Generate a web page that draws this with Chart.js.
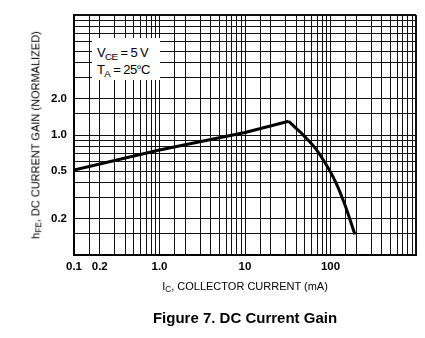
<!DOCTYPE html>
<html>
<head>
<meta charset="utf-8">
<script src="https://cdn.jsdelivr.net/npm/chart.js@4.4.1/dist/chart.umd.min.js"></script>
<style>
  html, body { margin: 0; padding: 0; background: #fff; }
  #wrap { position: relative; width: 425px; height: 338px; overflow: hidden; font-family: "Liberation Sans", Arial, Helvetica, sans-serif; color: #000; }
  canvas { position: absolute; left: 0; top: 0; }
  .txt { position: absolute; white-space: nowrap; line-height: 1; }
  .sub { font-size: 0.75em; position: relative; top: 0.3em; }
  #note { position: absolute; left: 92px; top: 38px; width: 68px; height: 42px; background: #fff; font-size: 13px; letter-spacing: -0.6px; }
  #note div { position: absolute; left: 5px; white-space: nowrap; line-height: 1; }
  #xtitle { left: 245px; top: 287px; transform: translate(-50%, -50%); font-size: 11px; }
  #ytitle { left: 36px; top: 135px; transform: translate(-50%, -50%) rotate(-90deg); font-size: 11px; }
  #caption { left: 245px; top: 317px; transform: translate(-50%, -50%); font-size: 15px; font-weight: bold; }
</style>
</head>
<body>
<div id="wrap">
  <canvas id="c" width="425" height="338"></canvas>
  <div id="note">
    <div style="top:8px">V<span class="sub">CE</span> = 5 V</div>
    <div style="top:25px">T<span class="sub">A</span> = 25°C</div>
  </div>
  <div class="txt" id="xtitle">I<span class="sub">C</span>, COLLECTOR CURRENT (mA)</div>
  <div class="txt" id="ytitle">h<span class="sub">FE</span>, DC CURRENT GAIN (NORMALIZED)</div>
  <div class="txt" id="caption">Figure 7. DC Current Gain</div>
</div>
<script>
// ---- data ----
const risingIc   = [0.1, 1, 10, 32.5];
const risingHfe  = [0.51, 0.75, 1.05, 1.3];
const fallingIc  = [32.5, 38, 50, 66, 86, 113, 148, 193];
const fallingHfe = [1.3, 1.17, 0.97, 0.78, 0.59, 0.415, 0.26, 0.148];

// grid lines (per decade 1, 1.5, 2..9)
const xGridValues = [0.1,0.15,0.2,0.3,0.4,0.5,0.6,0.7,0.8,0.9,
                     1,1.5,2,3,4,5,6,7,8,9,
                     10,15,20,30,40,50,60,70,80,90,
                     100,150,200,300,400,500,600,700,800,900,1000];
const yGridValues = [0.1,0.15,0.2,0.3,0.4,0.5,0.6,0.7,0.8,0.9,
                     1,1.5,2,3,4,5,6,7,8,9,10];

// tick labels
const xLabelValues = [0.1, 0.2, 1, 10, 100];
const xLabelTexts  = ['0.1', '0.2', '1.0', '10', '100'];
const yLabelValues = [0.2, 0.5, 1, 2];
const yLabelTexts  = ['0.2', '0.5', '1.0', '2.0'];

function labelFor(v, vals, texts) {
  for (let i = 0; i < vals.length; i++) {
    if (Math.abs(v - vals[i]) / vals[i] < 1e-6) return texts[i];
  }
  return '';
}
function toPts(xs, ys) { return xs.map((x, i) => ({ x: x, y: ys[i] })); }

const tickFont = { family: '"Liberation Sans", Arial, sans-serif', size: 11.5, weight: 'bold' };

new Chart(document.getElementById('c'), {
  type: 'line',
  data: {
    datasets: [
      { data: toPts(risingIc, risingHfe), borderColor: '#000', borderWidth: 3, pointRadius: 0, tension: 0, fill: false },
      { data: toPts(fallingIc, fallingHfe), borderColor: '#000', borderWidth: 3, pointRadius: 0, cubicInterpolationMode: 'monotone', fill: false }
    ]
  },
  options: {
    responsive: false,
    animation: false,
    devicePixelRatio: 1,
    layout: { padding: { top: 15, right: 9, left: 0, bottom: 0 } },
    plugins: { legend: { display: false }, tooltip: { enabled: false }, title: { display: false } },
    scales: {
      x: {
        type: 'logarithmic', min: 0.1, max: 1000,
        afterBuildTicks: (s) => { s.ticks = xGridValues.map(v => ({ value: v })); },
        afterFit: (s) => { s.height = 83; },
        ticks: { autoSkip: false, maxRotation: 0, minRotation: 0, padding: 5, color: '#000', font: tickFont,
                 callback: (v) => labelFor(v, xLabelValues, xLabelTexts) },
        grid: { color: '#111', lineWidth: (c) => (c.tick && c.tick.value === 1000 ? 2 : 1), drawTicks: false },
        border: { color: '#000', width: 2 }
      },
      y: {
        type: 'logarithmic', min: 0.1, max: 10,
        afterBuildTicks: (s) => { s.ticks = yGridValues.map(v => ({ value: v })); },
        afterFit: (s) => { s.width = 74; },
        ticks: { autoSkip: false, padding: 7, color: '#000', font: tickFont,
                 callback: (v) => labelFor(v, yLabelValues, yLabelTexts) },
        grid: { color: '#111', lineWidth: (c) => (c.tick && c.tick.value === 10 ? 2 : 1), drawTicks: false },
        border: { color: '#000', width: 2 }
      }
    }
  }
});
</script>
</body>
</html>
